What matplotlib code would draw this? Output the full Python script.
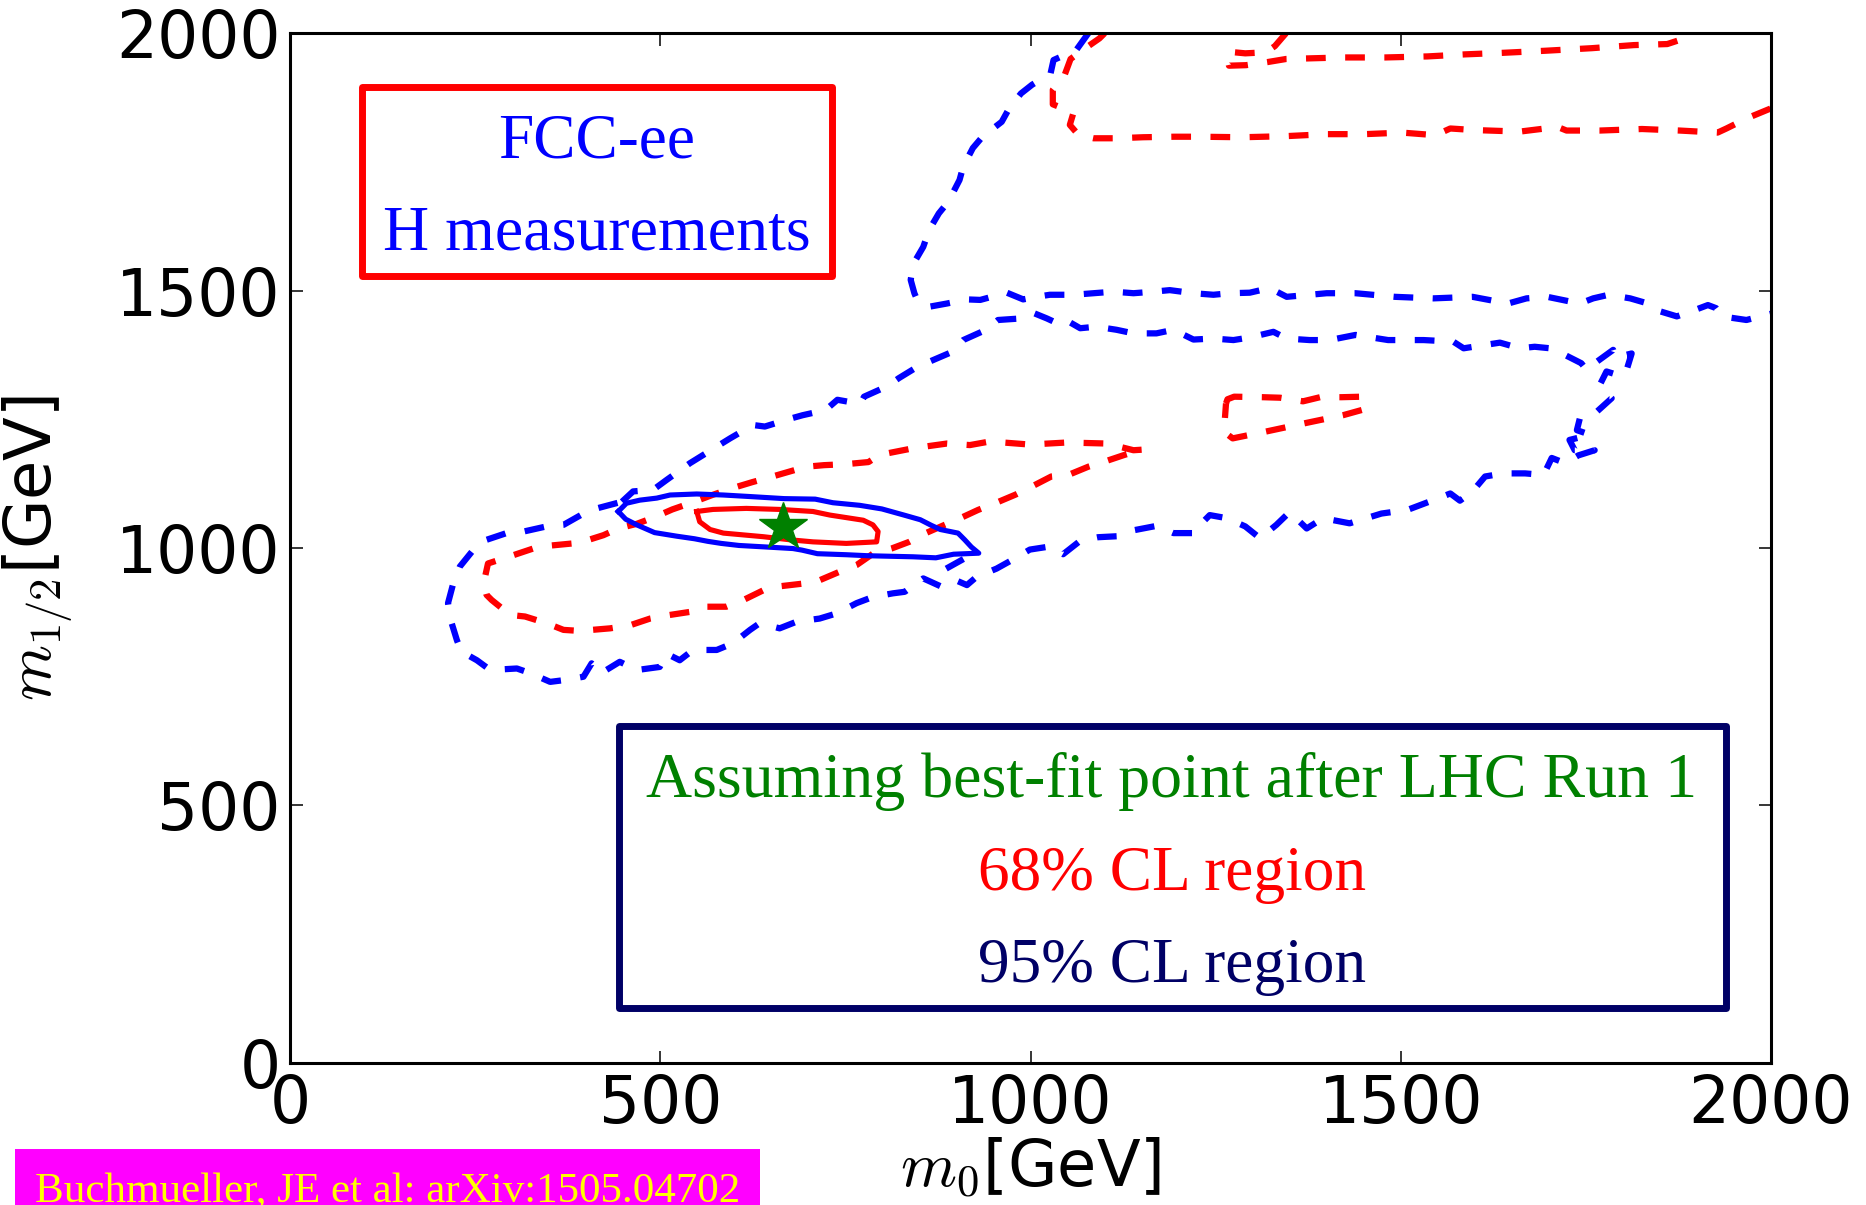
import matplotlib
matplotlib.use("Agg")
import matplotlib.pyplot as plt
from matplotlib.patches import Rectangle

# ---------------- data (m0, m1/2 in GeV) ----------------
ticks = [0, 500, 1000, 1500, 2000]
tick_labels = ["0", "500", "1000", "1500", "2000"]

best_fit_m0 = [665]
best_fit_m12 = [1040]

# FCC-ee Higgs measurements, 95% CL (solid blue)
fcc95_x = [443, 454, 472, 495, 513, 549, 585, 621, 667, 709, 733, 769, 799, 829, 851,
           866, 878, 902, 911, 920, 930, 896, 872, 841, 811, 781, 751, 712, 691, 679,
           643, 606, 582, 564, 546, 522, 492, 468, 453, 443]
fcc95_y = [1071, 1087, 1093, 1097, 1103, 1105, 1103, 1100, 1096, 1095, 1088, 1083, 1076,
           1064, 1055, 1044, 1036, 1029, 1016, 1002, 990, 988, 981, 983, 984, 985, 987,
           989, 996, 999, 1002, 1005, 1009, 1013, 1018, 1023, 1030, 1045, 1056, 1071]

# FCC-ee Higgs measurements, 68% CL (solid red)
fcc68_x = [549, 571, 616, 661, 706, 729, 774, 787, 794, 792, 751, 706, 675, 639, 585,
           567, 553, 549]
fcc68_y = [1071, 1075, 1077, 1075, 1071, 1064, 1054, 1045, 1032, 1012, 1009, 1012, 1016,
           1022, 1029, 1036, 1051, 1071]

# LHC Run 1, 68% CL (dashed red): main region
lhc68_main_x = [1150, 1139, 1103, 1049, 999, 945, 918, 887, 842, 796, 781, 751, 721, 697,
                673, 649, 624, 594, 570, 546, 516, 492, 468, 443, 423, 401, 382, 353, 328,
                301, 267, 261, 265, 272, 297, 317, 346, 369, 391, 432, 459, 486, 508, 540,
                553, 589, 612, 639, 657, 693, 711, 742, 765, 787, 812, 836, 860, 887, 905,
                929, 952, 980, 1001, 1028, 1051, 1078, 1100, 1127, 1150]
lhc68_main_y = [1191, 1190, 1203, 1205, 1201, 1207, 1200, 1203, 1194, 1181, 1167, 1163,
                1161, 1158, 1148, 1138, 1128, 1115, 1103, 1090, 1075, 1060, 1047, 1038,
                1025, 1015, 1009, 1005, 999, 986, 970, 931, 909, 899, 870, 867, 854, 841,
                839, 844, 850, 863, 869, 876, 886, 886, 899, 918, 925, 931, 935, 954, 967,
                989, 999, 1012, 1030, 1047, 1058, 1074, 1087, 1104, 1119, 1139, 1142, 1158,
                1168, 1181, 1191]

# LHC Run 1, 68% CL: island
lhc68_island_x = [1264, 1266, 1275, 1314, 1337, 1368, 1391, 1420, 1448, 1452, 1422, 1369,
                  1317, 1273, 1262, 1262, 1264]
lhc68_island_y = [1281, 1289, 1294, 1293, 1292, 1285, 1293, 1293, 1294, 1270, 1258, 1242,
                  1226, 1213, 1225, 1242, 1281]

# LHC Run 1, 68% CL: high-m1/2 band
lhc68_band_x = [1100, 1093, 1071, 1054, 1046, 1030, 1030, 1058, 1053, 1065, 1085, 1116,
                1152, 1194, 1229, 1286, 1343, 1400, 1451, 1502, 1547, 1567, 1599, 1661,
                1712, 1724, 1769, 1826, 1877, 1928, 1940, 1968, 2000]
lhc68_band_y = [2000, 1990, 1968, 1950, 1919, 1890, 1862, 1846, 1822, 1802, 1796, 1796,
                1798, 1799, 1799, 1798, 1800, 1804, 1804, 1807, 1802, 1815, 1812, 1809,
                1818, 1811, 1811, 1814, 1811, 1807, 1815, 1835, 1854]

# LHC Run 1, 68% CL: top edge
lhc68_top_x = [1345, 1330, 1318, 1290, 1268, 1266, 1268, 1291, 1320, 1345, 1371, 1422,
               1479, 1536, 1587, 1638, 1695, 1758, 1815, 1860, 1877, 1882]
lhc68_top_y = [2000, 1975, 1963, 1961, 1964, 1950, 1937, 1938, 1944, 1950, 1951, 1953,
               1953, 1955, 1959, 1962, 1966, 1971, 1977, 1979, 1987, 2000]

# LHC Run 1, 95% CL (dashed blue): closed region
lhc95_loop_x = [448, 463, 490, 508, 540, 576, 594, 625, 641, 677, 692, 723, 739, 770, 775,
                806, 822, 847, 868, 894, 909, 940, 956, 987, 1005, 1022, 1031, 1044, 1067,
                1089, 1116, 1139, 1170, 1193, 1220, 1247, 1274, 1296, 1328, 1346, 1377,
                1404, 1439, 1483, 1531, 1571, 1585, 1612, 1634, 1661, 1681, 1702, 1722,
                1744, 1751, 1765, 1787, 1790, 1812, 1805, 1798, 1778, 1769, 1785, 1765,
                1742, 1738, 1756, 1728, 1735, 1762, 1740, 1722, 1704, 1693, 1668, 1639,
                1614, 1597, 1580, 1567, 1544, 1509, 1474, 1431, 1395, 1373, 1350, 1332,
                1310, 1290, 1265, 1242, 1229, 1222, 1193, 1170, 1141, 1118, 1091, 1067,
                1044, 1026, 999, 979, 954, 927, 914, 898, 878, 855, 830, 814, 787, 765,
                738, 715, 684, 661, 634, 621, 598, 576, 544, 526, 508, 499, 468, 445, 420,
                407, 396, 373, 351, 324, 306, 270, 252, 231, 225, 216, 213, 220, 229, 247,
                265, 292, 315, 346, 369, 396, 414, 448]
lhc95_loop_y = [1090, 1110, 1113, 1132, 1165, 1197, 1213, 1239, 1236, 1252, 1258, 1268,
                1288, 1280, 1294, 1314, 1330, 1352, 1365, 1381, 1404, 1424, 1443, 1446,
                1456, 1446, 1440, 1446, 1427, 1430, 1424, 1417, 1417, 1424, 1405, 1407,
                1404, 1409, 1420, 1407, 1404, 1404, 1414, 1404, 1404, 1401, 1388, 1394,
                1399, 1388, 1391, 1388, 1375, 1359, 1346, 1362, 1385, 1370, 1378, 1345,
                1334, 1343, 1317, 1291, 1265, 1252, 1229, 1220, 1210, 1190, 1190, 1180,
                1165, 1175, 1142, 1145, 1145, 1139, 1110, 1092, 1106, 1093, 1074, 1067,
                1048, 1058, 1038, 1070, 1045, 1019, 1042, 1058, 1064, 1045, 1029, 1029,
                1043, 1035, 1023, 1021, 1014, 988, 1003, 997, 980, 960, 944, 928, 938, 926,
                941, 915, 912, 905, 893, 873, 863, 857, 844, 854, 841, 815, 802, 802, 782,
                795, 769, 763, 779, 757, 776, 750, 744, 740, 757, 766, 763, 782, 799, 821,
                863, 893, 931, 964, 996, 1016, 1029, 1032, 1042, 1045, 1067, 1077, 1090]

# LHC Run 1, 95% CL: open band towards high m1/2
lhc95_band_x = [1078, 1062, 1031, 1027, 1002, 987, 971, 961, 935, 922, 909, 904, 889, 876,
                863, 855, 842, 838, 843, 848, 864, 887, 914, 932, 968, 990, 1008, 1026,
                1058, 1085, 1112, 1139, 1166, 1188, 1220, 1247, 1269, 1296, 1323, 1346,
                1377, 1400, 1439, 1492, 1544, 1597, 1645, 1670, 1698, 1742, 1760, 1781,
                1810, 1834, 1850, 1873, 1891, 1915, 1926, 1934, 1967, 2000]
lhc95_band_y = [2000, 1968, 1948, 1922, 1900, 1883, 1854, 1828, 1799, 1777, 1741, 1715,
                1673, 1650, 1618, 1585, 1553, 1521, 1495, 1478, 1469, 1475, 1483, 1482,
                1496, 1483, 1488, 1492, 1492, 1495, 1498, 1495, 1498, 1501, 1495, 1492,
                1495, 1496, 1505, 1488, 1492, 1495, 1495, 1488, 1485, 1488, 1475, 1485,
                1488, 1475, 1485, 1492, 1485, 1475, 1460, 1450, 1459, 1472, 1466, 1450,
                1443, 1455]

# LHC Run 1, 95% CL: short piece near the FCC-ee contour tip
lhc95_piece_x = [886, 911]
lhc95_piece_y = [960, 980]

# ---------------- figure ----------------
plt.rcParams['mathtext.fontset'] = 'cm'
plt.rcParams['font.family'] = ['DejaVu Sans']
serif = ['Liberation Serif', 'DejaVu Serif']

fig = plt.figure(figsize=(18.66, 12.05), dpi=100)
ax = fig.add_axes([0.1556, 0.1180, 0.7934, 0.8544])

lw_d = 4.5
dash = (0, (14.2 / lw_d, 14.0 / lw_d))
ax.plot(lhc95_loop_x, lhc95_loop_y, color='blue', lw=lw_d, linestyle=dash)
ax.plot(lhc95_band_x, lhc95_band_y, color='blue', lw=lw_d, linestyle=dash)
ax.plot(lhc95_piece_x, lhc95_piece_y, color='blue', lw=lw_d, linestyle=dash)
ax.plot(lhc68_main_x, lhc68_main_y, color='red', lw=lw_d, linestyle=dash)
ax.plot(lhc68_island_x, lhc68_island_y, color='red', lw=lw_d, linestyle=dash)
ax.plot(lhc68_band_x, lhc68_band_y, color='red', lw=lw_d, linestyle=dash)
ax.plot(lhc68_top_x, lhc68_top_y, color='red', lw=lw_d, linestyle=dash)

ax.plot(fcc95_x, fcc95_y, color='blue', lw=3.7, solid_joinstyle='round')
ax.plot(fcc68_x, fcc68_y, color='red', lw=3.7, solid_joinstyle='round')
ax.plot(best_fit_m0, best_fit_m12, linestyle='none', marker='*', ms=36,
        color='green', mec='green', mew=1, zorder=5)

ax.set_xlim(0, 2000)
ax.set_ylim(0, 2000)
ax.set_xticks(ticks)
ax.set_xticklabels(tick_labels)
ax.set_yticks(ticks)
ax.set_yticklabels(tick_labels)
ax.tick_params(direction='in', length=9, width=1.1, top=True, right=True,
               labelsize=46.5, pad=7)
for s in ax.spines.values():
    s.set_linewidth(2.2)

ax.set_xlabel(r'$m_0$[GeV]', fontsize=46)
ax.xaxis.set_label_coords(0.5, -0.071)
ax.set_ylabel(r'$m_{1/2}$[GeV]', fontsize=46)
ax.yaxis.set_label_coords(-0.1455, 0.5)

# FCC-ee box
ax.add_patch(Rectangle((0.0484, 0.7643), 0.3174, 0.1838, transform=ax.transAxes,
                       fill=False, ec='red', lw=5, joinstyle='round', zorder=6))
ax.text(0.2067, 0.8796, 'FCC-ee', color='blue', fontsize=45.5, family=serif,
        ha='center', va='baseline', transform=ax.transAxes)
ax.text(0.2067, 0.7902, 'H measurements', color='blue', fontsize=46, family=serif,
        ha='center', va='baseline', transform=ax.transAxes)

# key box
ax.add_patch(Rectangle((0.222, 0.0532), 0.7474, 0.2739, transform=ax.transAxes,
                       fill=False, ec='#000066', lw=5, joinstyle='round', zorder=6))
ax.text(0.5955, 0.2579, 'Assuming best-fit point after LHC Run 1', color='green',
        fontsize=46, family=serif, ha='center', va='baseline', transform=ax.transAxes)
ax.text(0.5955, 0.1679, '68% CL region', color='red',
        fontsize=45.5, family=serif, ha='center', va='baseline', transform=ax.transAxes)
ax.text(0.5955, 0.0788, '95% CL region', color='#000066',
        fontsize=45.5, family=serif, ha='center', va='baseline', transform=ax.transAxes)

# citation tag
fig.add_artist(Rectangle((15 / 1866, 0), 745 / 1866, 56 / 1205,
                         transform=fig.transFigure, color='magenta', lw=0))
fig.text(387.5 / 1866, 3 / 1205, 'Buchmueller, JE et al: arXiv:1505.04702',
         color='yellow', fontsize=31, family=serif, ha='center', va='baseline')

fig.savefig('out.png', dpi=100)
